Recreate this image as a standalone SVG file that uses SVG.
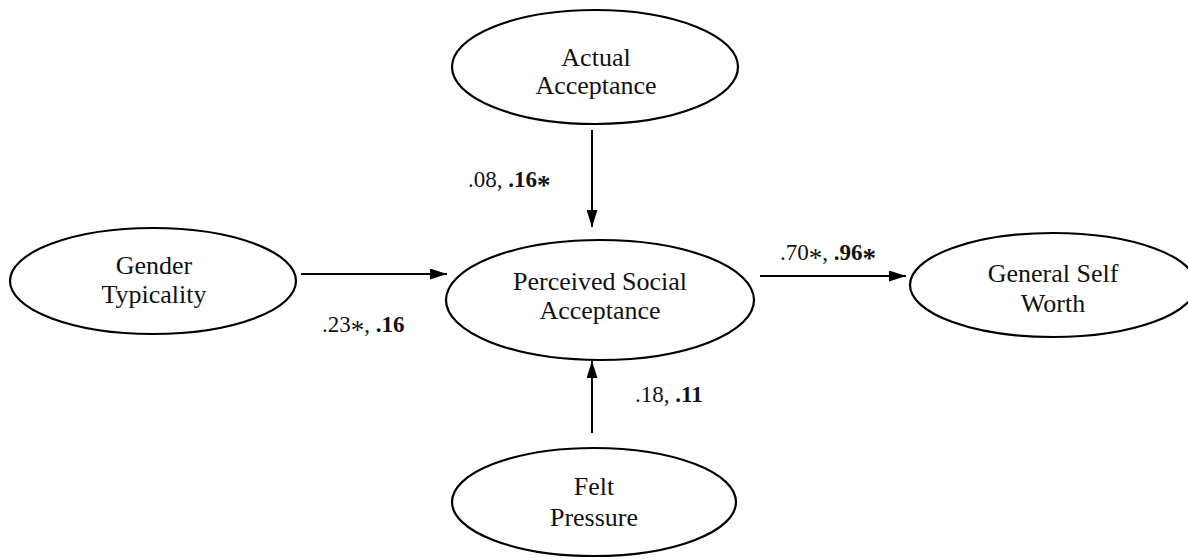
<svg xmlns="http://www.w3.org/2000/svg" width="1188" height="559" viewBox="0 0 1188 559">
  <style>
    .node ellipse { fill: #ffffff; stroke: #000000; stroke-width: 2.2; }
    .node text { font-family: "Liberation Serif", "Times New Roman", serif; font-size: 26px; fill: #111111; text-anchor: middle; }
    .edge line { stroke: #000000; stroke-width: 2; }
    .coef { font-family: "Liberation Serif", "Times New Roman", serif; font-size: 23px; fill: #111111; }
    .coef .b { font-weight: bold; }
    .coef .s { font-size: 27px; }
  </style>
  <defs>
    <marker id="head" viewBox="0 0 17 11" refX="17" refY="5.5" markerWidth="17" markerHeight="11" markerUnits="userSpaceOnUse" orient="auto">
      <path d="M0,0 L17,5.5 L0,11 Z" fill="#000000"/>
    </marker>
  </defs>
  <rect width="1188" height="559" fill="#ffffff"/>

  <!-- paths between constructs -->
  <g id="connectors" class="edge">
    <line x1="592" y1="130" x2="592" y2="227" marker-end="url(#head)"/>
    <line x1="301" y1="274" x2="447" y2="274" marker-end="url(#head)"/>
    <line x1="760" y1="276" x2="906" y2="276" marker-end="url(#head)"/>
    <line x1="592" y1="433" x2="592" y2="361" marker-end="url(#head)"/>
  </g>

  <!-- path coefficients; the significance star sits at mid-height -->
  <g id="coefficients" class="coef">
    <text x="468" y="187">.08, <tspan class="b">.16</tspan><tspan class="b s" dy="7">*</tspan></text>
    <text x="322" y="332">.23<tspan class="s" dy="7">*</tspan><tspan dy="-7">, </tspan><tspan class="b">.16</tspan></text>
    <text x="780" y="260">.70<tspan class="s" dy="7">*</tspan><tspan dy="-7">, </tspan><tspan class="b">.96</tspan><tspan class="b s" dy="7">*</tspan></text>
    <text x="635" y="402">.18, <tspan class="b">.11</tspan></text>
  </g>

  <g id="actual-acceptance" class="node">
    <ellipse cx="595" cy="67" rx="143" ry="57"/>
    <text x="596" y="66">Actual</text>
    <text x="596" y="94">Acceptance</text>
  </g>

  <g id="gender-typicality" class="node">
    <ellipse cx="153" cy="281" rx="143" ry="53"/>
    <text x="154" y="274">Gender</text>
    <text x="154" y="303">Typicality</text>
  </g>

  <g id="perceived-social-acceptance" class="node">
    <ellipse cx="600" cy="300" rx="154" ry="60"/>
    <text x="600" y="290">Perceived Social</text>
    <text x="600" y="319">Acceptance</text>
  </g>

  <g id="general-self-worth" class="node">
    <ellipse cx="1053" cy="285" rx="143" ry="52"/>
    <text x="1053" y="282">General Self</text>
    <text x="1053" y="312">Worth</text>
  </g>

  <g id="felt-pressure" class="node">
    <ellipse cx="594" cy="502" rx="142" ry="54"/>
    <text x="594" y="495">Felt</text>
    <text x="594" y="526">Pressure</text>
  </g>
</svg>
